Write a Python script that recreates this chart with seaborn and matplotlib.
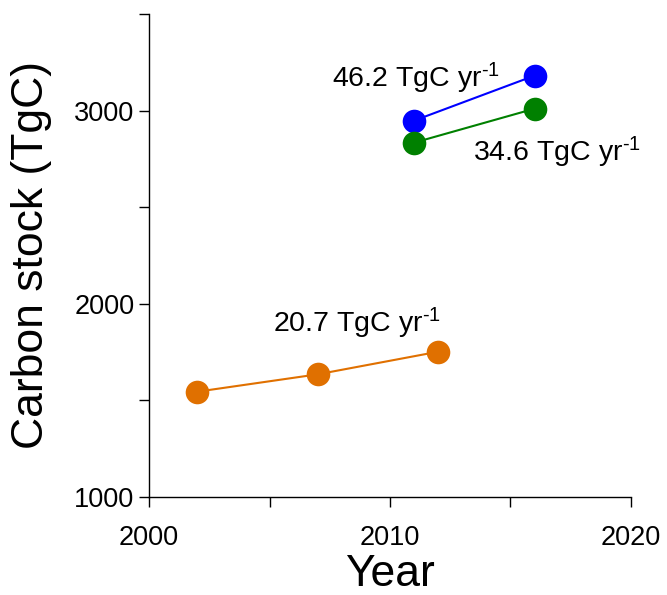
import seaborn as sns
import matplotlib.pyplot as plt
import pandas as pd
from matplotlib.ticker import MultipleLocator

# values
years_a = [2002, 2007, 2012]
stock_a = [1545, 1635, 1752]
years_b = [2011, 2016]
stock_b = [2948, 3181]
years_c = [2011, 2016]
stock_c = [2834, 3010]
series = ['a', 'b', 'c']
colors = ['#E07000', '#0000FF', '#008000']
rates = ['20.7', '46.2', '34.6']
label_pos = [(2005.15, 1850), (2007.6, 3119), (2013.45, 2736)]

df = pd.concat([
    pd.DataFrame({'Year': years_a, 'Stock': stock_a, 'series': 'a'}),
    pd.DataFrame({'Year': years_b, 'Stock': stock_b, 'series': 'b'}),
    pd.DataFrame({'Year': years_c, 'Stock': stock_c, 'series': 'c'}),
])

sns.set_style('ticks')
plt.rcParams['font.family'] = ['Liberation Sans', 'DejaVu Sans']
plt.rcParams['mathtext.fontset'] = 'custom'
plt.rcParams['mathtext.rm'] = 'Liberation Sans'
plt.rcParams['mathtext.default'] = 'regular'
plt.rcParams['text.color'] = 'black'
plt.rcParams['axes.labelcolor'] = 'black'

fig = plt.figure(figsize=(6.67, 5.95), dpi=100)
ax = fig.add_axes([0.2234, 0.1647, 0.7226, 0.8118])

sns.lineplot(data=df, x='Year', y='Stock', hue='series', hue_order=series,
             palette=dict(zip(series, colors)), marker='o', markersize=17,
             markeredgewidth=0, linewidth=1.5, legend=False, ax=ax)

for r, (x, y) in zip(rates, label_pos):
    ax.text(x, y, r + r' TgC yr$^{\text{-1}}$', fontsize=20.5, ha='left', va='baseline')

ax.set_xlim(2000, 2020)
ax.set_ylim(1000, 3500)
ax.xaxis.set_major_locator(MultipleLocator(10))
ax.xaxis.set_minor_locator(MultipleLocator(5))
ax.yaxis.set_major_locator(MultipleLocator(1000))
ax.yaxis.set_minor_locator(MultipleLocator(500))
ax.tick_params(which='both', direction='out', length=7, width=1, color='black',
               labelsize=19.5, labelcolor='black')
ax.tick_params(axis='x', pad=13.5)
ax.tick_params(axis='y', pad=3.5)
for s in ['left', 'bottom']:
    ax.spines[s].set_color('black')
    ax.spines[s].set_linewidth(1)
sns.despine(ax=ax)

ax.set_xlabel('Year', fontsize=32, labelpad=2)
ax.set_ylabel('Carbon stock (TgC)', fontsize=32, labelpad=16)

fig.savefig('out.png', dpi=100)
